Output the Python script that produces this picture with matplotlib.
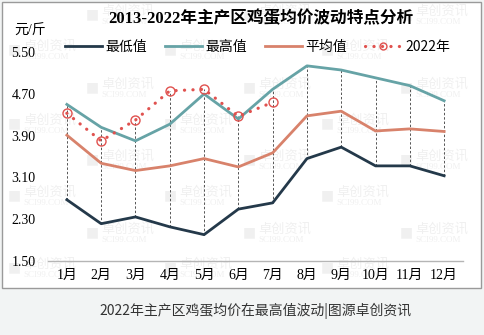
import matplotlib
matplotlib.use("Agg")
import matplotlib.pyplot as plt
from matplotlib.patches import Rectangle
import numpy as np

plt.rcParams['font.family'] = ['Liberation Serif', 'Noto Sans CJK SC']

# data (元/斤)
months = ['1月', '2月', '3月', '4月', '5月', '6月', '7月', '8月', '9月', '10月', '11月', '12月']
min_vals = [2.67, 2.21, 2.34, 2.15, 2.00, 2.49, 2.61, 3.46, 3.68, 3.32, 3.32, 3.13]
max_vals = [4.50, 4.06, 3.80, 4.12, 4.70, 4.22, 4.79, 5.24, 5.16, 5.01, 4.86, 4.57]
avg_vals = [3.91, 3.37, 3.23, 3.32, 3.46, 3.30, 3.57, 4.28, 4.37, 3.99, 4.03, 3.98]
y2022 = [4.33, 3.80, 4.20, 4.76, 4.79, 4.27, 4.54]
yticks = [1.50, 2.30, 3.10, 3.90, 4.70, 5.50]

title = '2013-2022年主产区鸡蛋均价波动特点分析'
caption = '2022年主产区鸡蛋均价在最高值波动|图源卓创资讯'

W, H = 484, 335
fig = plt.figure(figsize=(W / 100, H / 100), dpi=100, facecolor='#f2f4f4')

# white chart box with grey border
fig.patches.append(Rectangle((2 / W, 1 - 288 / H), 479 / W, 286 / H, transform=fig.transFigure,
                             facecolor='white', edgecolor='#9a9a9a', lw=1.0, zorder=-2))

# faint watermarks
wm_cols = [7, 85, 163, 242, 320, 399]
wm_rows = [15, 50, 88, 124, 160, 196, 233, 268]
wm_color = '#f0f0f0'
for r, yy in enumerate(wm_rows):
    for c, xx in enumerate(wm_cols):
        if (r + c) % 2 == 0:
            continue
        fig.text((xx + 1) / W, 1 - (yy - 1) / H, '■', fontsize=10, color=wm_color,
                 va='center', ha='left', zorder=-1, family='DejaVu Sans')
        fig.text((xx + 16) / W, 1 - (yy - 4) / H, '卓创资讯', fontsize=9.5, color=wm_color,
                 va='center', ha='left', zorder=-1, family='Noto Sans CJK SC')
        fig.text((xx + 16) / W, 1 - (yy + 7) / H, 'SCI99.COM', fontsize=6.5, color=wm_color,
                 va='center', ha='left', zorder=-1)

ax = fig.add_axes([48 / W, 1 - 260.7 / H, (463 - 48) / W, (260.7 - 52.3) / H])
ax.patch.set_visible(False)

x = np.arange(len(months))
top = [max(a, b) for a, b in zip(max_vals, y2022 + [-1] * (len(months) - len(y2022)))]
ax.vlines(x, min_vals, top, colors='#555555', linestyles=(0, (2.5, 2)), lw=0.7, zorder=1)

ax.plot(x, min_vals, color='#24394a', lw=2.0, label='最低值', zorder=3)
ax.plot(x, max_vals, color='#66a3a6', lw=2.0, label='最高值', zorder=3)
ax.plot(x, avg_vals, color='#d8826b', lw=2.0, label='平均值', zorder=3)
ax.plot(x[:len(y2022)], y2022, color='#e0524f', lw=2.3, ls=(0, (0.05, 2.6)),
        dash_capstyle='round', marker='o', ms=6.5, mfc='none', mec='#e0524f', mew=1.0,
        label='2022年', zorder=4)

ax.set_xlim(-0.55, 11.55)
ax.set_ylim(1.5, 5.5)
ax.set_xticks(x)
ax.set_xticklabels(months, fontsize=10)
ax.set_yticks(yticks)
ax.set_yticklabels(['%.2f' % v for v in yticks], fontsize=10)
ax.tick_params(axis='both', length=0)
ax.tick_params(axis='x', pad=6)
ax.tick_params(axis='y', pad=9)
for s in ['top', 'right', 'left']:
    ax.spines[s].set_visible(False)
ax.spines['bottom'].set_color('#b5b5b5')
ax.spines['bottom'].set_linewidth(1.0)

fig.text(261 / W, 1 - 19 / H, title, fontsize=12, fontweight='bold', ha='center', va='center')
fig.text(14 / W, 1 - 31 / H, '元/斤', fontsize=10, ha='left', va='center')

leg = fig.legend(loc='center', bbox_to_anchor=(258 / W, 1 - 47 / H), ncol=4, frameon=False,
                 handlelength=2.6, handletextpad=0.3, columnspacing=1.3,
                 prop={'family': ['Noto Sans CJK SC'], 'size': 10})
leg.legend_handles[3].set_markersize(5)

fig.text(256 / W, 1 - 311 / H, caption, fontsize=10, ha='center', va='center', color='#333333',
         family=['Noto Sans CJK SC'])

fig.savefig('out.png', dpi=100, facecolor=fig.get_facecolor())
